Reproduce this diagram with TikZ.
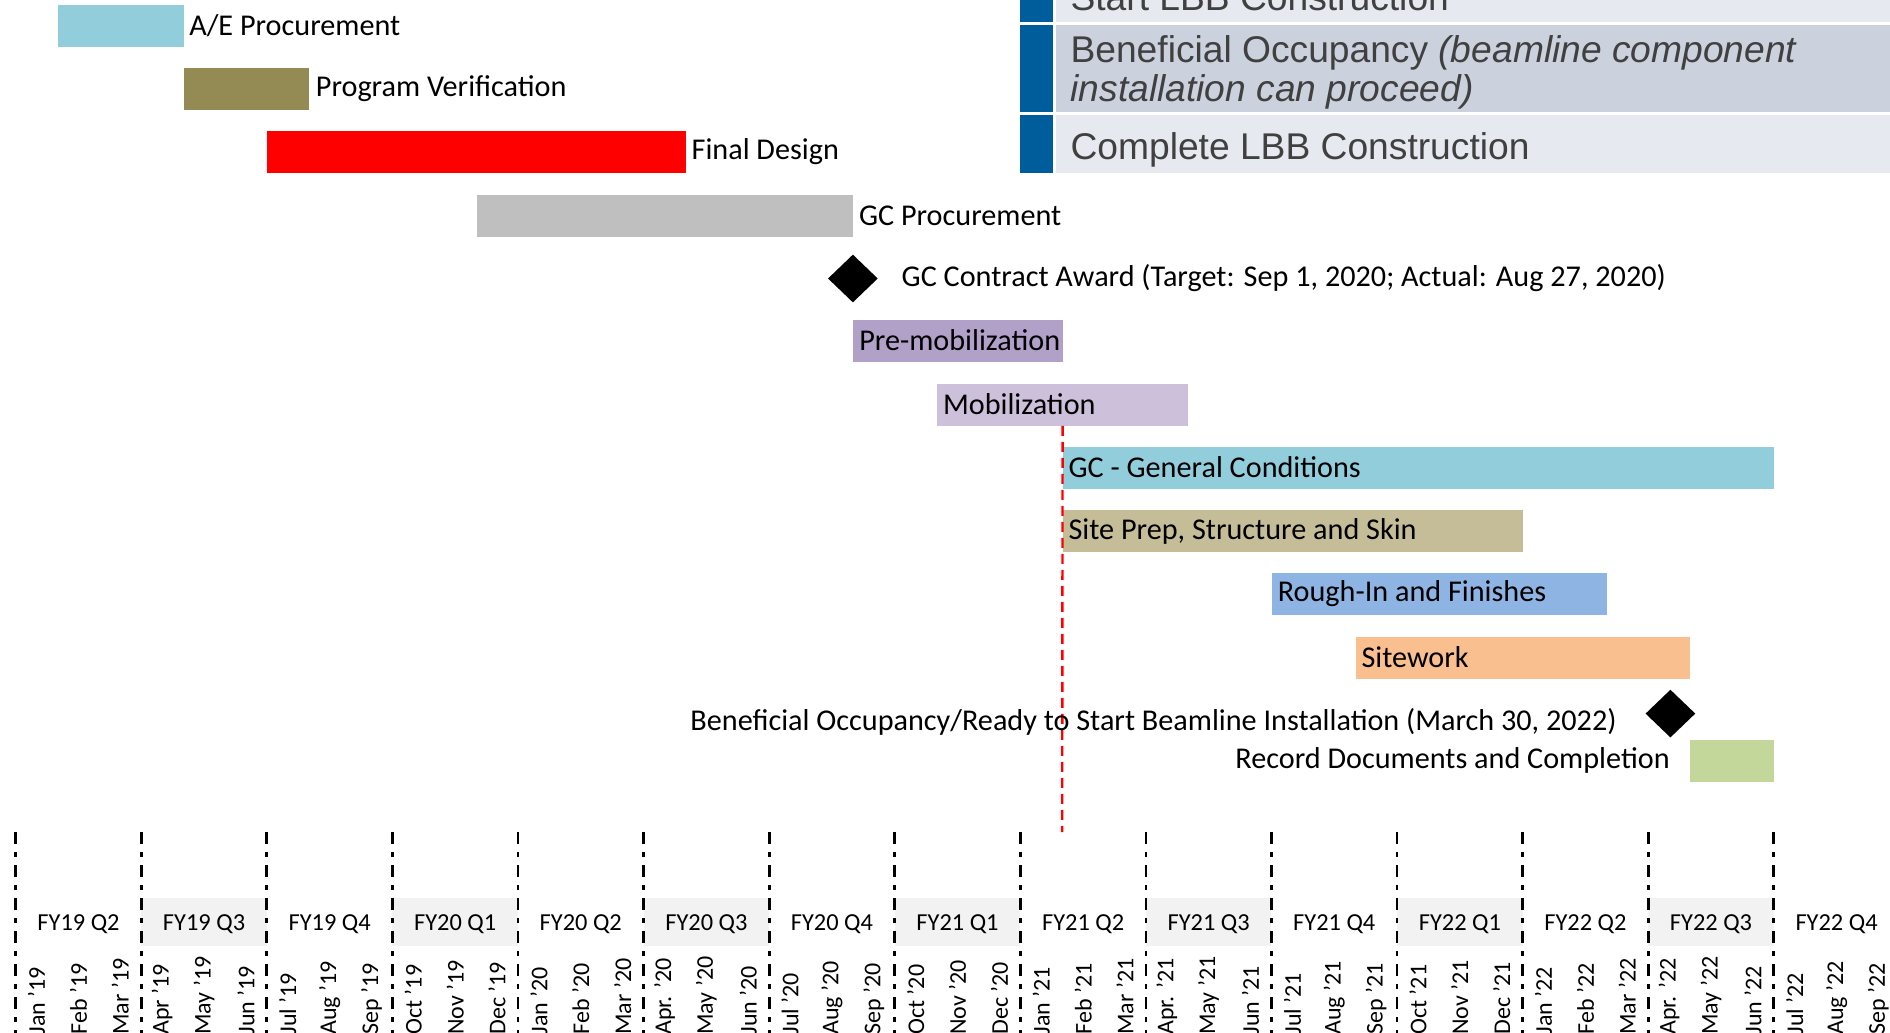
\documentclass[tikz,border=0pt]{standalone}
\usepackage{fontspec}
\setmainfont{Carlito}
\newfontfamily\tblfont{Liberation Sans}
\usetikzlibrary{positioning,shapes.geometric}

\definecolor{aeblue}{HTML}{92CDDC}
\definecolor{pvolive}{HTML}{948A54}
\definecolor{gcgray}{HTML}{BFBFBF}
\definecolor{premobpurple}{HTML}{B1A0C7}
\definecolor{mobpurple}{HTML}{CCC0DA}
\definecolor{sitetan}{HTML}{C4BD97}
\definecolor{roughblue}{HTML}{8DB4E2}
\definecolor{siteorange}{HTML}{FABF8F}
\definecolor{recgreen}{HTML}{C4D79B}
\definecolor{qshade}{HTML}{F2F2F2}
\definecolor{msblue}{HTML}{005D9B}
\definecolor{rowlight}{HTML}{E6E9EF}
\definecolor{rowdark}{HTML}{CBD1DD}
\definecolor{tbltext}{HTML}{404040}

% one month of the time axis
\newcommand\monthw{20.93pt}

\begin{document}
\begin{tikzpicture}[
  x=\monthw, y=-0.5pt,
  font=\fontsize{15.1pt}{18pt}\selectfont,
  bar/.style={minimum height=21pt, inner sep=0pt, anchor=west},
  lbl/.style={inner sep=0pt},
  mile/.style={diamond, fill=black, inner sep=0pt, minimum width=25pt, minimum height=24pt},
  today/.style={red, line width=1.2pt, dash pattern=on 5pt off 3pt},
  qline/.style={line width=1.4pt, dash pattern=on 6pt off 4pt on 2.5pt off 4pt},
  qband/.style={fill=qshade},
  qlbl/.style={inner sep=0pt, font=\fontsize{12.2pt}{14pt}\selectfont},
  mlbl/.style={inner sep=0pt, rotate=90, anchor=west, font=\fontsize{12pt}{14pt}\selectfont},
  tbl/.style={inner sep=0pt, anchor=base west, text=tbltext,
    font=\tblfont\fontsize{18.6pt}{22pt}\selectfont}
]
\useasboundingbox (-0.375,0) rectangle (44.776,1033);
\clip (-0.375,0) rectangle (44.776,1033);

% ── milestone table (top right) ─────────────────────────────────────────
\fill[msblue]   (24.0,-40)  rectangle (24.77,21.5);
\fill[rowlight] (24.85,-40) rectangle (44.8,21.5);
\fill[msblue]   (24.0,25)   rectangle (24.77,111.7);
\fill[rowdark]  (24.85,25)  rectangle (44.8,111.7);
\fill[msblue]   (24.0,115)  rectangle (24.77,172.5);
\fill[rowlight] (24.85,115) rectangle (44.8,172.5);
\node[tbl] (row1)  at (25.19,10.5) {Start LBB Construction};
\node[tbl] (row2a) at (25.19,62.7) {Beneficial Occupancy \textit{(beamline component}};
\node[tbl] (row2b) at (25.19,101)  {\textit{installation can proceed)}};
\node[tbl] (row3)  at (25.19,159)  {Complete LBB Construction};

% ── design and procurement ──────────────────────────────────────────────
\node[bar, fill=aeblue, minimum width=3*\monthw] (ae) at (1,25.5) {};
\node[lbl, right=2.5pt of ae] (aeLbl) {A/E Procurement};
\node[bar, fill=pvolive, minimum width=3*\monthw] (pv) at (4,89) {};
\node[lbl, right=3pt of pv] (pvLbl) {Program Verification};
\node[bar, fill=red, minimum width=10*\monthw] (fd) at (6,152) {};
\node[lbl, right=2.5pt of fd] (fdLbl) {Final Design};
\node[bar, fill=gcgray, minimum width=9*\monthw] (gcp) at (11,215.5) {};
\node[lbl, right=2.5pt of gcp] (gcpLbl) {GC Procurement};
\node[mile] (gca) at (20,278.5) {};
\node[lbl, right=11.5pt of gca] (gcaLbl) {GC Contract Award (Target: Sep 1, 2020; Actual: Aug 27, 2020)};

% ── construction ────────────────────────────────────────────────────────
\node[bar, fill=premobpurple, minimum width=5*\monthw] (preMob) at (20,340.5) {};
\node[lbl, right=3pt of preMob.west] (preMobLbl) {Pre-mobilization};
\node[bar, fill=mobpurple, minimum width=6*\monthw] (mob) at (22,404.5) {};
\node[lbl, right=3pt of mob.west] (mobLbl) {Mobilization};
\node[bar, fill=aeblue, minimum width=17*\monthw] (gcgc) at (25,467.5) {};
\node[bar, fill=sitetan, minimum width=11*\monthw] (site) at (25,531) {};
\node[bar, fill=roughblue, minimum width=8*\monthw] (rough) at (30,594) {};
\node[bar, fill=siteorange, minimum width=8*\monthw] (sitework) at (32,657.5) {};
\node[mile] (bo) at (39.53,713.6) {};
\node[bar, fill=recgreen, minimum width=2*\monthw] (rec) at (40,760.5) {};

% data date line
\coordinate (todayEnd) at (25,832);
\draw[today] (mob.south) -- (todayEnd);

\node[lbl, right=3pt of gcgc.west] (gcgcLbl) {GC - General Conditions};
\node[lbl, right=3pt of site.west] (siteLbl) {Site Prep, Structure and Skin};
\node[lbl, right=3pt of rough.west] (roughLbl) {Rough-In and Finishes};
\node[lbl, right=3pt of sitework.west] (siteworkLbl) {Sitework};
\node[lbl, left=14pt of bo, yshift=-4pt] (boLbl) {Beneficial Occupancy/Ready to Start Beamline Installation (March 30, 2022)};
\node[lbl, left=10pt of rec] (recLbl) {Record Documents and Completion};

% ── time axis ───────────────────────────────────────────────────────────
\foreach \q in {1,3,...,13}
  \fill[qband] (3*\q,898) rectangle (3*\q+3,946);
\foreach \q in {0,...,14}
  \draw[qline] (3*\q,832) -- (3*\q,1033);
\foreach \lab [count=\q from 0] in {FY19 Q2,FY19 Q3,FY19 Q4,FY20 Q1,FY20 Q2,FY20 Q3,
    FY20 Q4,FY21 Q1,FY21 Q2,FY21 Q3,FY21 Q4,FY22 Q1,FY22 Q2,FY22 Q3,FY22 Q4}
  \node[qlbl] (qtr\q) at (3*\q+1.5,924.5) {\lab};
\foreach \lab [count=\m from 0] in {Jan '19,Feb '19,Mar '19,Apr '19,May '19,Jun '19,
    Jul '19,Aug '19,Sep '19,Oct '19,Nov '19,Dec '19,Jan '20,Feb '20,Mar '20,Apr. '20,
    May '20,Jun '20,Jul '20,Aug '20,Sep '20,Oct '20,Nov '20,Dec '20,Jan '21,Feb '21,
    Mar '21,Apr. '21,May '21,Jun '21,Jul '21,Aug '21,Sep '21,Oct '21,Nov '21,Dec '21,
    Jan '22,Feb '22,Mar '22,Apr. '22,May '22,Jun '22,Jul '22,Aug '22,Sep '22}
  \node[mlbl] (mon\m) at (\m+0.5,1035) {\lab};

\end{tikzpicture}
\end{document}
